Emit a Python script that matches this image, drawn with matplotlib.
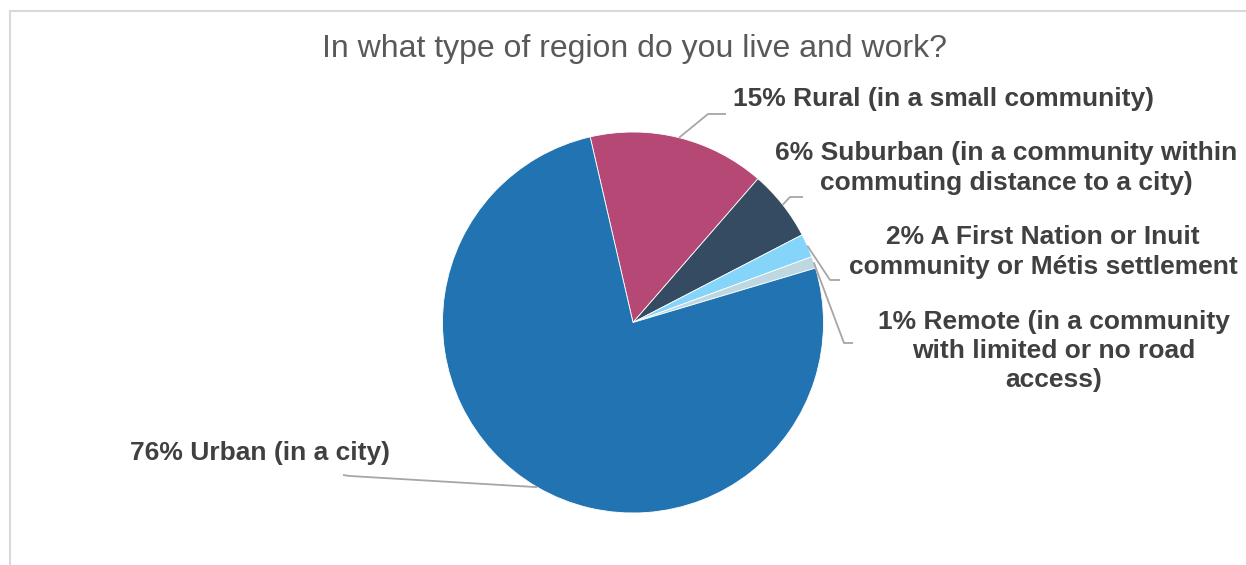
import numpy as np
import matplotlib
matplotlib.use("Agg")
import matplotlib.pyplot as plt
from matplotlib.patches import Rectangle

# Survey shares (percent), in drawing order clockwise from the top-left edge
categories = [
    "Rural (in a small community)",
    "Suburban (in a community within\ncommuting distance to a city)",
    "A First Nation or Inuit\ncommunity or Métis settlement",
    "Remote (in a community\nwith limited or no road\naccess)",
    "Urban (in a city)",
]
shares = [15, 6, 2, 1, 76]
colors = ["#B54874", "#344B61", "#85D4F9", "#BDD8E1", "#2273B1"]
title = "In what type of region do you live and work?"

W, H = 1246, 565
fig = plt.figure(figsize=(W / 100, H / 100), dpi=100)
ax = fig.add_axes([0, 0, 1, 1])

def py(y):
    # convert a top-down pixel row to data y
    return H - y

cx, cy, R = 633, py(322.5), 190.5
wedges, _ = ax.pie(shares, colors=colors, startangle=103, counterclock=False,
                   center=(cx, cy), radius=R,
                   wedgeprops=dict(edgecolor="white", linewidth=0.6))

# label layout: (elbow x, elbow y, line end x, line end y, text x, text y, ha)
layout = [
    (708, 114, 726, 114, 733, 99, "left"),
    (790, 197, 803, 197, 1006, 168, "center"),
    (830, 280, 840, 280, 1043, 252, "center"),
    (844, 343, 853, 343, 1054, 351, "center"),
    (350, 476, 343, 475, 130, 453, "left"),
]

line_col = "#A6A6A6"
text_col = "#404040"
for w, share, name, (ex, ey, lx, ly, tx, tyy, ha) in zip(wedges, shares, categories, layout):
    mid = np.deg2rad((w.theta1 + w.theta2) / 2)
    ax0 = cx + R * np.cos(mid)
    ay0 = cy + R * np.sin(mid)
    ax.plot([ax0, ex, lx], [ay0, py(ey), py(ly)], color=line_col, lw=1.3,
            solid_capstyle="butt", zorder=3)
    ax.text(tx, py(tyy), f"{share}% {name}", ha=ha, va="center",
            multialignment="center", fontsize=19, fontweight="bold",
            family="Liberation Sans", color=text_col, linespacing=1.27)

ax.text(634, py(49), title, ha="center", va="center", fontsize=23,
        family="Liberation Sans", color="#595959")

# chart frame
ax.add_patch(Rectangle((9.5, py(H + 20)), W + 40, H + 20 - 10.5, fill=False,
                       edgecolor="#D9D9D9", lw=1.5, zorder=0))

ax.set_xlim(0, W)
ax.set_ylim(0, H)
ax.set_aspect("equal")
ax.axis("off")
fig.savefig("out.png", dpi=100, facecolor="white")
